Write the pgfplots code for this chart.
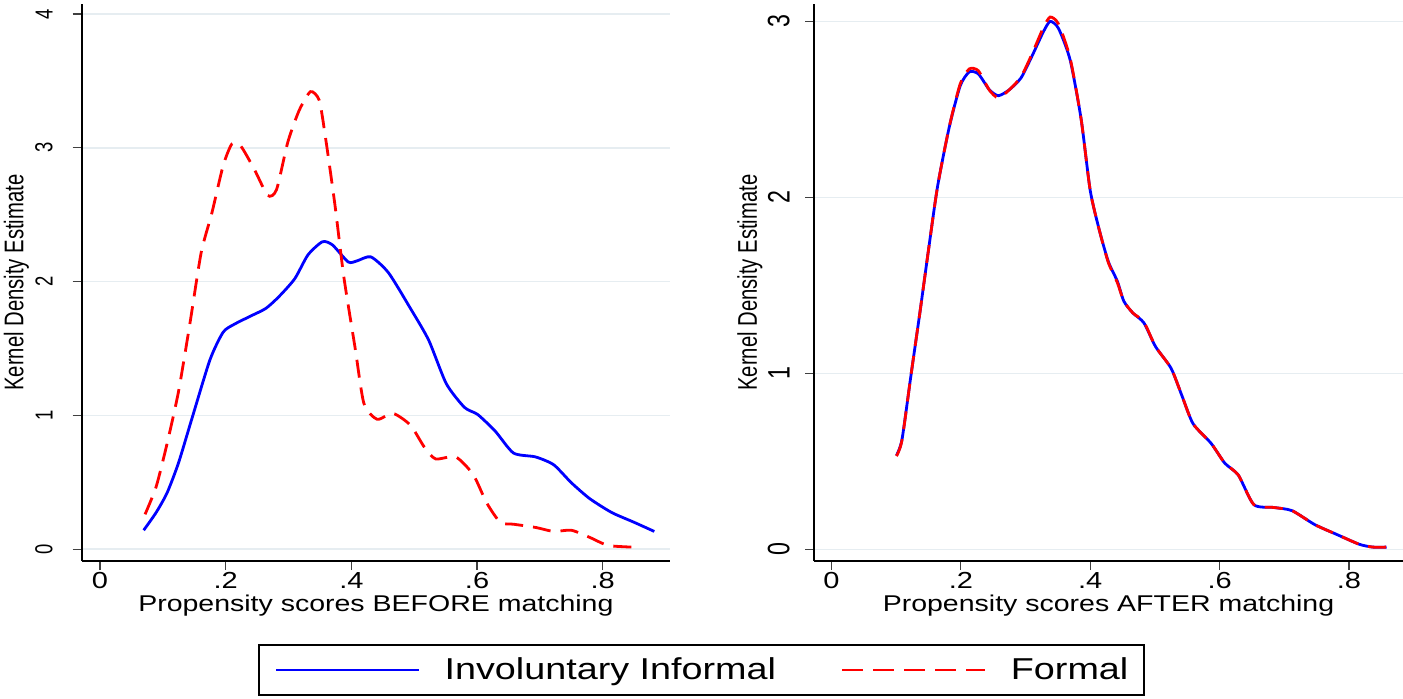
\documentclass[border=0pt]{standalone}
\usepackage{pgfplots}
\pgfplotsset{compat=1.18}
\usepackage{pgfplotstable}
\usepackage{fontspec}
\setmainfont{Liberation Sans}[FakeStretch=1.25]
\newfontfamily\vfont{Liberation Sans}[FakeStretch=0.75]
\definecolor{gridc}{RGB}{230,237,241}

\pgfplotstableread{
x y
0.0696 0.142
0.0895 0.275
0.107 0.423
0.125 0.645
0.146 0.971
0.175 1.415
0.196 1.622
0.214 1.682
0.239 1.741
0.264 1.800
0.285 1.889
0.310 2.022
0.331 2.200
0.354 2.298
0.370 2.274
0.395 2.147
0.409 2.155
0.431 2.185
0.459 2.067
0.494 1.800
0.523 1.563
0.551 1.238
0.580 1.060
0.601 1.007
0.629 0.882
0.658 0.719
0.693 0.690
0.722 0.631
0.750 0.497
0.779 0.379
0.814 0.275
0.850 0.201
0.882 0.133
}\beforeinf

\pgfplotstableread{
x y
0.0718 0.261
0.0895 0.468
0.107 0.793
0.125 1.178
0.143 1.682
0.161 2.215
0.178 2.511
0.196 2.866
0.210 3.029
0.224 3.014
0.246 2.836
0.267 2.644
0.281 2.688
0.299 3.044
0.317 3.280
0.335 3.420
0.349 3.354
0.359 3.073
0.374 2.570
0.388 2.037
0.406 1.504
0.420 1.090
0.441 0.971
0.466 1.016
0.494 0.927
0.516 0.764
0.534 0.675
0.566 0.690
0.594 0.557
0.615 0.349
0.637 0.201
0.658 0.187
0.693 0.163
0.722 0.133
0.750 0.142
0.779 0.089
0.807 0.030
0.836 0.018
0.855 0.015
}\beforeform

\pgfplotstableread{
x y
0.1005 0.534
0.109 0.624
0.1227 0.984
0.1366 1.343
0.150 1.702
0.164 2.062
0.182 2.398
0.199 2.634
0.213 2.713
0.227 2.702
0.244 2.612
0.258 2.578
0.275 2.612
0.293 2.679
0.310 2.803
0.327 2.937
0.338 3.000
0.351 2.960
0.369 2.780
0.386 2.443
0.400 2.039
0.414 1.815
0.428 1.635
0.442 1.523
0.452 1.410
0.466 1.343
0.483 1.287
0.501 1.152
0.525 1.029
0.542 0.871
0.559 0.714
0.587 0.602
0.608 0.490
0.629 0.422
0.653 0.254
0.684 0.238
0.712 0.220
0.747 0.141
0.781 0.085
0.816 0.029
0.837 0.013
0.858 0.013
}\afterinf

\pgfplotstableread{
x y
0.1005 0.530
0.109 0.620
0.1227 0.984
0.1366 1.343
0.150 1.702
0.164 2.062
0.182 2.400
0.199 2.645
0.213 2.730
0.227 2.720
0.244 2.610
0.258 2.565
0.275 2.612
0.293 2.685
0.310 2.815
0.327 2.960
0.338 3.025
0.351 2.985
0.369 2.790
0.386 2.443
0.400 2.039
0.414 1.815
0.428 1.630
0.442 1.515
0.452 1.410
0.466 1.343
0.483 1.292
0.501 1.152
0.525 1.029
0.542 0.871
0.559 0.714
0.587 0.602
0.608 0.490
0.629 0.422
0.653 0.254
0.684 0.238
0.712 0.220
0.747 0.141
0.781 0.085
0.816 0.029
0.837 0.013
0.858 0.013
}\afterform

\pgfplotsset{
  stata/.style={
    scale only axis, height=278.5pt,
    axis x line*=bottom, axis y line*=left,
    axis line style={line width=1.2pt,-},
    tick align=outside, major tick length=4.5pt,
    major tick style={line width=0.6pt, black!75},
    ymajorgrids, grid style={line width=0.8pt, gridc},
    xtick={0,0.2,0.4,0.6,0.8}, xticklabels={0,.2,.4,.6,.8},
    xticklabel style={font=\fontsize{11.6}{13}\selectfont, anchor=north, inner sep=0pt, yshift=-1pt},
    yticklabel style={rotate=90, anchor=south, inner sep=0pt},
    ylabel={Kernel Density Estimate},
    ylabel style={font=\vfont\fontsize{13.5}{15}\selectfont, anchor=base, inner sep=0pt},
    xlabel style={font=\fontsize{11.4}{13}\selectfont, anchor=base, inner sep=0pt},
    scaled ticks=false,
    legend image code/.code={\draw[#1] (0pt,0pt) -- (71.5pt,0pt);},
  },
  blueline/.style={blue, line width=1.4pt, smooth, tension=0.4},
  redline/.style={red, line width=1.4pt, dash pattern=on 9pt off 5pt, smooth, tension=0.4},
}

\begin{document}
\begin{tikzpicture}
\useasboundingbox (0,0) rectangle (701.5pt,349pt);
\begin{axis}[stata,
  at={(40.85pt,68.5pt)}, anchor=south west, width=294.15pt,
  xmin=-0.029, xmax=0.907, ymin=-0.088, ymax=4.075,
  ytick={0,1,2,3,4}, yticklabels={0,1,2,3,4},
  yticklabel style={font=\vfont\fontsize{12.3}{14}\selectfont, yshift=9.8pt},
  xlabel={Propensity scores BEFORE matching},
  xlabel style={at={(axis description cs:0.5,-0.0898)}},
  ylabel style={at={(axis description cs:-0.0993,0.5)}},
  legend columns=2,
  legend style={at={(1.0536,-0.1957)}, anchor=center, draw=black, line width=0.9pt,
    font=\fontsize{15.1}{18}\selectfont, inner xsep=8pt, inner ysep=4.4pt,
    nodes={inner xsep=0pt},
    /tikz/every even column/.append style={column sep=32.5pt},
    /tikz/every odd column/.append style={column sep=12pt}},
]
\addplot[blueline] table {\beforeinf};
\addlegendentry{Involuntary Informal}
\addplot[redline, legend image post style={dash pattern=on 10.5pt off 5pt}] table {\beforeform};
\addlegendentry{Formal}
\end{axis}
\begin{axis}[stata,
  at={(407pt,68.5pt)}, anchor=south west, width=294.5pt,
  xmin=-0.027, xmax=0.8835, ymin=-0.066, ymax=3.099,
  ytick={0,1,2,3}, yticklabels={0,1,2,3},
  yticklabel style={font=\vfont\fontsize{15.5}{17}\selectfont, yshift=7.5pt},
  xlabel={Propensity scores AFTER matching},
  xlabel style={at={(axis description cs:0.5,-0.0898)}},
  ylabel style={at={(axis description cs:-0.0968,0.5)}},
]
\addplot[blueline] table {\afterinf};
\addplot[redline] table {\afterform};
\end{axis}
\end{tikzpicture}
\end{document}
